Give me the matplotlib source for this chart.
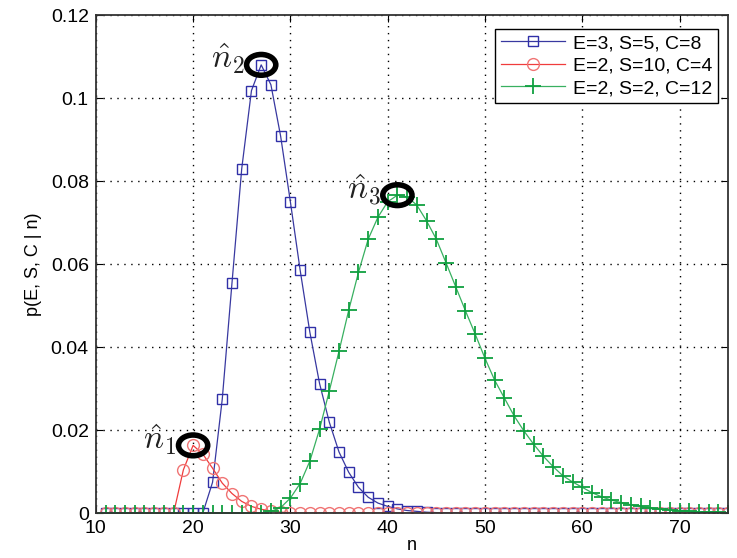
import numpy as np
import matplotlib
matplotlib.use("Agg")
import matplotlib.pyplot as plt
from matplotlib.patches import Ellipse

# n values
n = np.arange(11, 76)

# E=3, S=5, C=8  (non-zero part starts at n=22)
blue_vals = [0.0074, 0.0275, 0.0555, 0.0830, 0.1018, 0.1080, 0.1032, 0.0908,
             0.0750, 0.0586, 0.0436, 0.0312, 0.0219, 0.0147, 0.0098, 0.0062,
             0.0038, 0.0024, 0.0016, 0.0010, 0.0006, 0.0004, 0.0002, 0.0001]
# E=2, S=10, C=4  (non-zero part starts at n=19)
red_vals = [0.0104, 0.0163, 0.0142, 0.0108, 0.0072, 0.0047, 0.0028, 0.0016,
            0.0009, 0.0005, 0.0002, 0.0001]
# E=2, S=2, C=12  (non-zero part starts at n=28)
green_vals = [0.0004, 0.0013, 0.0036, 0.0071, 0.0125, 0.0202, 0.0294, 0.0390,
              0.0489, 0.0580, 0.0660, 0.0713, 0.0750, 0.0766, 0.0762, 0.0742,
              0.0704, 0.0660, 0.0603, 0.0545, 0.0487, 0.0431, 0.0373, 0.0320,
              0.0277, 0.0234, 0.0198, 0.0166, 0.0137, 0.0112, 0.0090, 0.0075,
              0.0062, 0.0049, 0.0039, 0.0031, 0.0025, 0.0020, 0.0016, 0.0012,
              0.0009, 0.0007, 0.0005, 0.0004, 0.0003, 0.0002, 0.0002, 0.0001]

labels = ["E=3, S=5, C=8", "E=2, S=10, C=4", "E=2, S=2, C=12"]
peak_names = [r"$\hat{n}_2$", r"$\hat{n}_1$", r"$\hat{n}_3$"]


def pad(start, vals):
    y = np.zeros(len(n))
    i = start - n[0]
    y[i:i + len(vals)] = vals
    return y


blue = pad(22, blue_vals)
red = pad(19, red_vals)
green = pad(28, green_vals)

plt.rcParams['font.family'] = ['Liberation Sans', 'DejaVu Sans']
plt.rcParams['mathtext.fontset'] = 'cm'

fig = plt.figure(figsize=(7.37, 5.58), dpi=100)
ax = fig.add_axes([0.130, 0.0806, 0.858, 0.8924])

ax.plot(n, blue, color='#3838a0', lw=0.9, marker='s', ms=7.5, mfc='none',
        mec='#3030a8', mew=1.0, label=labels[0])
ax.plot(n, red, color='#f03c3c', lw=0.9, marker='o', ms=8.5, mfc='none',
        mec='#f07474', mew=1.0, label=labels[1])
ax.plot(n, green, color='#38b060', lw=0.9, marker='+', ms=11, mfc='none',
        mec='#10a040', mew=1.3, label=labels[2])

# peak markers
for y, name in zip([blue, red, green], peak_names):
    k = int(np.argmax(y))
    ax.add_patch(Ellipse((n[k], y[k]), 3.0, 0.0050, fill=False, lw=4,
                         color='black', zorder=5))
    ax.annotate(name, (n[k], y[k]), xytext=(-12, 4), textcoords='offset points',
                ha='right', va='center', fontsize=24, color='#222222')

ax.set_xlim(10, 75)
ax.set_ylim(0, 0.12)
ax.set_xticks(np.arange(10, 71, 10))
ax.set_yticks(np.arange(0, 0.121, 0.02))
ax.yaxis.set_major_formatter(matplotlib.ticker.FormatStrFormatter('%g'))
ax.tick_params(direction='in', labelsize=14, length=5, top=True, right=True,
               pad=5)
ax.grid(True, color='black', linestyle=(0, (1, 4)), lw=1.0)
for s in ax.spines.values():
    s.set_linewidth(1.3)
    s.set_color('#333333')

ax.set_xlabel("n", fontsize=13, labelpad=0)
ax.set_ylabel("p(E, S, C | n)", fontsize=13, labelpad=6)

leg = ax.legend(loc='upper right', bbox_to_anchor=(0.999, 0.992), fontsize=14,
                fancybox=False, framealpha=1, edgecolor='black',
                handlelength=3.3, borderpad=0.3, labelspacing=0.25,
                handletextpad=0.4)
leg.get_frame().set_linewidth(1.0)

fig.savefig("out.png", dpi=100)
